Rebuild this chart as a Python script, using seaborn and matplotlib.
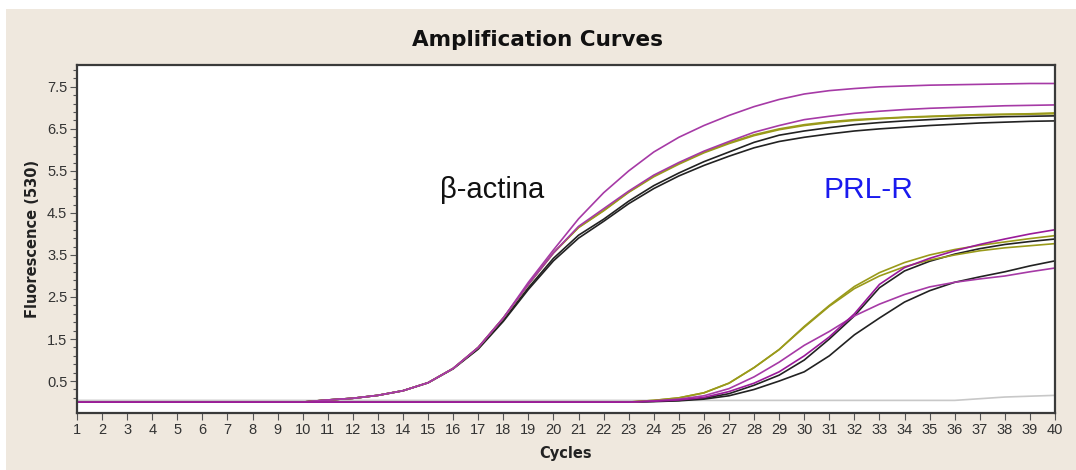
import numpy as np
import pandas as pd
import matplotlib
matplotlib.use("Agg")
import matplotlib.pyplot as plt
import seaborn as sns
from matplotlib.ticker import MultipleLocator, FixedLocator

cycles = list(range(1, 41))

base10 = [0.0] * 10
# beta-actin curves (cycles 1..40)
actb_purple1 = base10 + [0.05, 0.09, 0.16, 0.27, 0.46, 0.8, 1.3, 2.0, 2.85, 3.62,
                         4.36, 4.98, 5.5, 5.95, 6.3, 6.58, 6.82, 7.03, 7.2, 7.33,
                         7.41, 7.46, 7.5, 7.52, 7.54, 7.55, 7.56, 7.57, 7.58, 7.58]
actb_purple2 = base10 + [0.05, 0.09, 0.16, 0.27, 0.46, 0.8, 1.3, 2.0, 2.8, 3.55,
                         4.18, 4.6, 5.02, 5.4, 5.7, 5.97, 6.2, 6.42, 6.58, 6.72,
                         6.8, 6.87, 6.92, 6.96, 6.99, 7.01, 7.03, 7.05, 7.06, 7.07]
actb_olive1 = base10 + [0.05, 0.09, 0.16, 0.27, 0.46, 0.8, 1.3, 2.0, 2.8, 3.55,
                        4.16, 4.56, 5.0, 5.38, 5.68, 5.95, 6.17, 6.36, 6.5, 6.6,
                        6.67, 6.72, 6.75, 6.78, 6.8, 6.82, 6.84, 6.85, 6.86, 6.88]
actb_olive2 = base10 + [0.05, 0.09, 0.16, 0.27, 0.46, 0.8, 1.3, 2.0, 2.8, 3.55,
                        4.15, 4.55, 4.99, 5.36, 5.66, 5.93, 6.15, 6.34, 6.48, 6.58,
                        6.65, 6.7, 6.74, 6.77, 6.79, 6.81, 6.83, 6.84, 6.85, 6.86]
actb_black1 = base10 + [0.05, 0.09, 0.16, 0.27, 0.46, 0.8, 1.28, 1.95, 2.72, 3.42,
                        3.97, 4.35, 4.78, 5.15, 5.45, 5.72, 5.95, 6.18, 6.35, 6.45,
                        6.53, 6.6, 6.65, 6.69, 6.72, 6.75, 6.77, 6.79, 6.8, 6.81]
actb_black2 = base10 + [0.05, 0.09, 0.16, 0.27, 0.46, 0.79, 1.26, 1.92, 2.68, 3.36,
                        3.9, 4.3, 4.72, 5.08, 5.38, 5.63, 5.85, 6.05, 6.2, 6.3,
                        6.38, 6.45, 6.5, 6.54, 6.58, 6.61, 6.64, 6.66, 6.68, 6.69]

base23 = [0.0] * 23
# PRL-R curves (cycles 1..40)
prlr_olive1 = base23 + [0.04, 0.1, 0.22, 0.45, 0.82, 1.25, 1.8, 2.3, 2.75, 3.08,
                        3.32, 3.5, 3.63, 3.73, 3.81, 3.89, 3.96]
prlr_olive2 = base23 + [0.04, 0.1, 0.22, 0.45, 0.82, 1.25, 1.78, 2.28, 2.7, 3.0,
                        3.22, 3.38, 3.5, 3.6, 3.67, 3.72, 3.77]
prlr_purpleA = base23 + [0.02, 0.05, 0.11, 0.25, 0.45, 0.72, 1.1, 1.55, 2.1, 2.8,
                         3.2, 3.42, 3.6, 3.75, 3.88, 4.0, 4.1]
prlr_blackA = base23 + [0.02, 0.04, 0.09, 0.2, 0.4, 0.64, 1.0, 1.5, 2.05, 2.72,
                        3.12, 3.35, 3.52, 3.65, 3.75, 3.82, 3.88]
prlr_purpleB = base23 + [0.03, 0.07, 0.15, 0.32, 0.6, 0.95, 1.35, 1.68, 2.05, 2.33,
                         2.56, 2.74, 2.85, 2.93, 3.0, 3.1, 3.19]
prlr_blackB = base23 + [0.01, 0.03, 0.07, 0.15, 0.3, 0.5, 0.72, 1.1, 1.6, 2.0,
                        2.38, 2.65, 2.85, 2.98, 3.1, 3.24, 3.36]

neg_control = [0.04] * 36 + [0.08, 0.12, 0.14, 0.16]

PURPLE = "#9a1a9a"
PURPLE_L = "#a63aa6"
OLIVE = "#9a9a1a"
BLACK = "#222222"
GRAY = "#c8c8c8"

series = [
    ("neg", neg_control, GRAY),
    ("actb_black2", actb_black2, BLACK),
    ("actb_black1", actb_black1, BLACK),
    ("actb_olive2", actb_olive2, OLIVE),
    ("actb_olive1", actb_olive1, OLIVE),
    ("actb_purple2", actb_purple2, PURPLE_L),
    ("actb_purple1", actb_purple1, PURPLE_L),
    ("prlr_blackB", prlr_blackB, BLACK),
    ("prlr_blackA", prlr_blackA, BLACK),
    ("prlr_olive2", prlr_olive2, OLIVE),
    ("prlr_olive1", prlr_olive1, OLIVE),
    ("prlr_purpleB", prlr_purpleB, PURPLE_L),
    ("prlr_purpleA", prlr_purpleA, PURPLE),
]

rows = []
for name, vals, _ in series:
    for c, v in zip(cycles, vals):
        rows.append({"cycle": c, "fluor": v, "sample": name})
df = pd.DataFrame(rows)
palette = {name: col for name, _, col in series}

sns.set_theme(style="white")
plt.rcParams["font.family"] = ["Liberation Sans", "DejaVu Sans"]

BG = "#efe8de"
fig = plt.figure(figsize=(10.76, 4.70), dpi=100)
fig.patch.set_facecolor("white")
fig.patches.append(matplotlib.patches.Rectangle((6 / 1076, 0), 1, (470 - 9) / 470,
                                                transform=fig.transFigure,
                                                facecolor=BG, edgecolor="none", zorder=-10))
ax = fig.add_axes([77 / 1076, 1 - 413 / 470, (1055 - 77) / 1076, (413 - 65) / 470])
ax.set_facecolor("white")

sns.lineplot(data=df, x="cycle", y="fluor", hue="sample", hue_order=[s[0] for s in series],
             palette=palette, legend=False, linewidth=1.2, ax=ax)

ax.set_xlim(1, 40)
ax.set_ylim(-0.26, 8.02)
ax.xaxis.set_major_locator(MultipleLocator(1))
ax.yaxis.set_major_locator(FixedLocator([0.5, 1.5, 2.5, 3.5, 4.5, 5.5, 6.5, 7.5]))
ax.yaxis.set_minor_locator(FixedLocator([round(0.1 + 0.2 * i, 1) for i in range(40)]))
ax.set_yticklabels(["0.5", "1.5", "2.5", "3.5", "4.5", "5.5", "6.5", "7.5"])
ax.tick_params(axis="both", which="major", direction="out", length=5, width=0.8,
               color="#555555", labelsize=10.5, labelcolor="#333333", pad=2,
               left=True, bottom=True)
ax.tick_params(axis="y", which="minor", direction="out", length=3, width=0.8,
               color="#555555", left=True)
for sp in ax.spines.values():
    sp.set_color("#3a3a3a")
    sp.set_linewidth(1.6)

ax.set_xlabel("Cycles", fontsize=10.5, fontweight="bold", color="#222222", labelpad=7,
              family="DejaVu Sans")
ax.set_ylabel("Fluorescence (530)", fontsize=10.5, fontweight="bold", color="#222222",
              labelpad=5, family="DejaVu Sans")

fig.text(538 / 1076, 1 - 40 / 470, "Amplification Curves", ha="center", va="center",
         fontsize=15.5, fontweight="bold", color="#111111", family="DejaVu Sans")

ax.text(17.55, 5.05, "β-actina", ha="center", va="center", fontsize=21, color="#111111")
ax.text(32.55, 5.05, "PRL-R", ha="center", va="center", fontsize=21.5, color="#1a1aee")

fig.savefig("out.png", dpi=100, facecolor=fig.get_facecolor())
